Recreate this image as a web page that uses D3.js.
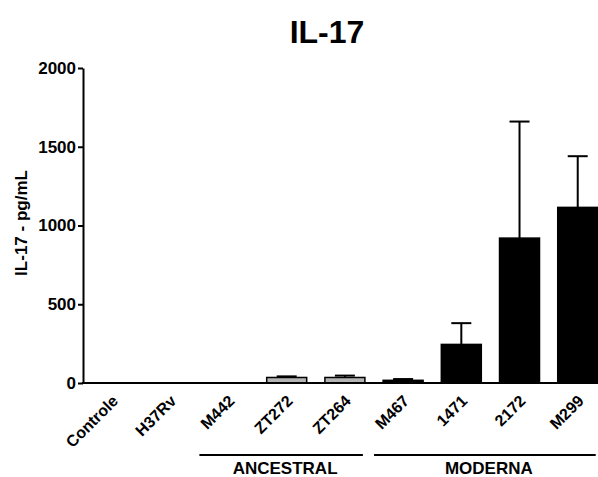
<!DOCTYPE html>
<html>
<head>
  <meta charset="utf-8">
  <title>IL-17</title>
  <script type="text/javascript" src="https://cdn.jsdelivr.net/npm/d3@7"></script>
  <style type="text/css">
    body { margin: 0; background: #fff; }
    text { font-family: Arial, "Liberation Sans", sans-serif; font-weight: bold; }
  </style>
</head>
<body>
  <script type="text/javascript">

    // data
    const categories = ["Controle", "H37Rv", "M442", "ZT272", "ZT264", "M467", "1471", "2172", "M299"];
    const means = [0, 0, 0, 35, 35, 17, 245, 920, 1115];
    const errors = [0, 0, 0, 7, 12, 8, 135, 740, 325];
    const fills = ["#ffffff", "#ffffff", "#b4b4b4", "#b4b4b4", "#b4b4b4", "#000000", "#000000", "#000000", "#000000"];
    const yTicks = [0, 500, 1000, 1500, 2000];
    const groups = [
      { name: "ANCESTRAL", from: "M442", to: "ZT264" },
      { name: "MODERNA", from: "M467", to: "M299" }
    ];

    const w = 598, h = 477;
    const plotLeft = 83, plotBase = 383, plotTop = 68;

    const svg = d3.select("body").append("svg")
      .attr("width", w)
      .attr("height", h);

    const x = d3.scaleBand()
      .domain(categories)
      .range([plotLeft, plotLeft + 9 * 58.2])
      .paddingInner(0.313)
      .paddingOuter(0.156);

    const y = d3.scaleLinear()
      .domain([0, 2000])
      .range([plotBase, plotTop]);

    // title
    svg.append("text")
      .attr("x", 327).attr("y", 43)
      .attr("text-anchor", "middle")
      .attr("font-size", 32)
      .text("IL-17");

    // y axis
    const yAxis = svg.append("g")
      .attr("transform", `translate(${plotLeft},0)`)
      .call(d3.axisLeft(y).tickValues(yTicks).tickFormat(d3.format("d"))
        .tickSize(5).tickPadding(2).tickSizeOuter(0));
    yAxis.select(".domain").attr("stroke-width", 2);
    yAxis.selectAll(".tick line").attr("stroke-width", 2);
    yAxis.selectAll("text")
      .attr("font-size", 17)
      .attr("font-family", "Arial, 'Liberation Sans', sans-serif")
      .attr("font-weight", "bold");

    svg.append("text")
      .attr("transform", "translate(27,223) rotate(-90)")
      .attr("text-anchor", "middle")
      .attr("font-size", 17)
      .text("IL-17 - pg/mL");

    // error bars
    const eb = svg.append("g").selectAll("g")
      .data(categories.filter((c, i) => errors[i] > 0))
      .enter().append("g");
    eb.append("line")
      .attr("x1", d => x(d) + x.bandwidth() / 2)
      .attr("x2", d => x(d) + x.bandwidth() / 2)
      .attr("y1", d => y(means[categories.indexOf(d)]))
      .attr("y2", d => y(means[categories.indexOf(d)] + errors[categories.indexOf(d)]))
      .attr("stroke", "#000").attr("stroke-width", 2);
    eb.append("line")
      .attr("x1", d => x(d) + x.bandwidth() / 2 - 10)
      .attr("x2", d => x(d) + x.bandwidth() / 2 + 10)
      .attr("y1", d => y(means[categories.indexOf(d)] + errors[categories.indexOf(d)]))
      .attr("y2", d => y(means[categories.indexOf(d)] + errors[categories.indexOf(d)]))
      .attr("stroke", "#000").attr("stroke-width", 2);

    // bars
    svg.append("g").selectAll("rect")
      .data(categories)
      .enter().append("rect")
      .attr("x", d => x(d))
      .attr("width", x.bandwidth())
      .attr("y", (d, i) => y(means[i]))
      .attr("height", (d, i) => plotBase - y(means[i]))
      .attr("fill", (d, i) => fills[i])
      .attr("stroke", "#000")
      .attr("stroke-width", (d, i) => means[i] > 0 ? 1.5 : 0);

    // x axis line
    svg.append("line")
      .attr("x1", plotLeft - 1).attr("x2", w)
      .attr("y1", plotBase).attr("y2", plotBase)
      .attr("stroke", "#000").attr("stroke-width", 2);

    // x labels
    svg.append("g").selectAll("text")
      .data(categories)
      .enter().append("text")
      .attr("transform", d => `translate(${x(d) + x.bandwidth() / 2 + 7},402) rotate(-45)`)
      .attr("text-anchor", "end")
      .attr("font-size", 16)
      .text(d => d);

    // group brackets
    const step = x.step();
    groups.forEach(g => {
      const x1 = x(g.from) - x.paddingInner() * step / 2;
      const x2 = Math.min(x(g.to) + x.bandwidth() - 2, w - 2);
      svg.append("line")
        .attr("x1", x1).attr("x2", x2)
        .attr("y1", 455).attr("y2", 455)
        .attr("stroke", "#000").attr("stroke-width", 2);
      svg.append("text")
        .attr("x", (x1 + x2) / 2 + 4).attr("y", 474)
        .attr("text-anchor", "middle")
        .attr("font-size", 17)
        .text(g.name);
    });

  </script>
</body>
</html>
